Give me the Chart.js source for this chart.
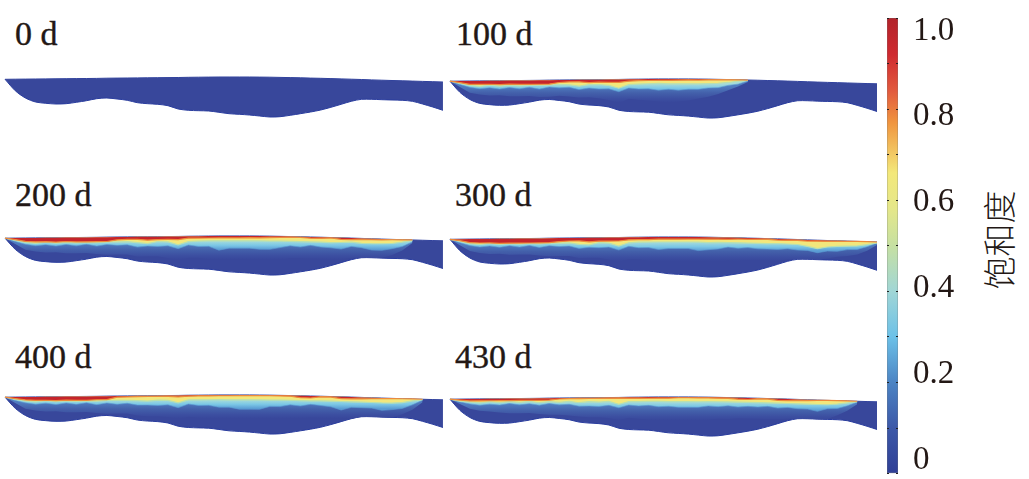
<!DOCTYPE html>
<html>
<head>
<meta charset="utf-8">
<style>
  html, body { margin: 0; padding: 0; background: #fff; }
  body { width: 1029px; height: 479px; position: relative; overflow: hidden; }
  canvas { position: absolute; }
  canvas.section { filter: blur(0.6px); }
  .label { position: absolute; font: 34px "Liberation Serif", serif; color: #231815; line-height: 36px; white-space: nowrap; -webkit-text-stroke: 0.4px #231815; }
  #barTitle { position: absolute; left: 948px; top: 222px; width: 100px; text-align: center; transform: rotate(-90deg); font: 300 33px/36px "Noto Sans CJK SC", sans-serif; color: #231815; }
</style>
</head>
<body>
<div id="barTitle">饱和度</div>
<canvas id="barChart" style="left:880px;top:0" width="149" height="479"></canvas>
<script src="https://cdn.jsdelivr.net/npm/chart.js@4"></script>
<script>
// distance along the section, every 10 units
const stations = [0,10,20,30,40,50,60,70,80,90,100,110,120,130,140,150,160,170,180,190,200,210,220,230,240,250,260,270,280,290,300,310,320,330,340,350,360,370,380,390,400,410,420,430];

// section outline, elevation
const topSurface = [-2.3,-2.2,-2.1,-2,-1.9,-1.8,-1.7,-1.6,-1.5,-1.4,-1.2,-1.1,-1,-0.9,-0.8,-0.7,-0.6,-0.5,-0.3,-0.2,-0.1,0,0,0,0,-0.1,-0.2,-0.4,-0.6,-0.8,-1.1,-1.3,-1.6,-1.9,-2.2,-2.5,-2.9,-3.2,-3.5,-3.8,-4.1,-4.4,-4.7,-5];
const bottomSurface = [-2.3,-13.7,-21,-25,-26.3,-27,-26.7,-25.3,-23.7,-21.7,-21,-22,-23.3,-25.7,-26.7,-27.3,-28.7,-32,-33.3,-33.7,-34,-35.3,-36.7,-37.3,-38,-39,-40,-39.7,-38.3,-36.7,-35,-33,-30.3,-27.3,-24.3,-22.3,-22.3,-22.7,-23,-23.3,-24.3,-27,-30,-33.3];

// depth below the surface of each saturation front
const red100 = [0,1.5,3.5,3.5,3.5,4,3.5,4,4,4,4,2.5,2,2,3,2.5,3,3,2,1.5,1.5,1.5,1.5,1.2,1,1,0.8,0.5,0.3,0,0];
const yellow100 = [0,2,4.5,5.5,4.5,5.5,4.8,5.5,5,5,5,4.5,5,6.5,5,5,6,9,5.5,5,4.8,4.5,5,5,5,5,4.5,4,3,1.5,0.5];
const cyan100 = [0,3.5,6.5,8,7,8.5,7,8.5,7,9,7,8,7.5,10,8.5,9.5,9.5,12.5,9,10,10,11.5,10.5,11.5,10.5,10.5,9,8.5,6,4.5,1];
const haze100 = [0,6,12,14,15,15,16,16,16,17,17,16,17,18,18,19,21,24,20,21,22,23,24,23,22,20,18,15,11,7,2];

const red200 = [0,1.5,3.5,4,4,4.5,4,4.5,4.5,4.5,4.5,3,2.5,2.5,3.5,3,3,3.2,2,2,2,2,2,2,1.8,1.8,1.5,1.2,0.8,0.8,1.2,1.2,0.5,1.5,1.5,1.2,1,0.8,0.4,0.2,0];
const yellow200 = [0,2,4.5,5.5,4.5,5.5,5,5.5,5,5.5,5,5,4.8,6,7,5,5.5,8.5,5.5,5,5,5,5,5,5,5,5,4.8,5,5,5,5,5.2,4.8,4.2,5,5,4.8,4.2,2.5,0.5];
const cyan200 = [0,3.5,6.5,8,7,8.5,7,8.5,7,9,7.5,8.5,8,10.5,9.5,10,9.5,12.5,9,10.5,10.5,14.5,12.5,12.5,12.5,13.5,13.5,11.5,9.5,10.5,8.5,10,10.5,11.5,8.5,9.5,11.5,11.5,9.5,7,2];
const haze200 = [0,6,12,14,15,15,16,16,16,17,18,18,18,20,20,20,22,24,22,22,24,26,26,24,25,26,26,24,22,22,22,22,22,22,20,20,21,19,16,11,3];

const red300 = [0,1.5,3.5,4,4,4.5,4.5,4.5,4.5,4.5,4.5,3.5,3,3,4,3.5,3.5,3.5,2.5,2.5,2.5,2.2,2.2,2.2,2,2,2,1.8,1.8,1.2,1.2,1.2,0.8,1.2,1.2,1,1.2,1,1,0.6,0.2,0,0,0];
const yellow300 = [0,2,4.5,5.5,4.5,5.5,5,5.5,5,5.5,5,5,4.8,6.5,7,5,5.5,8.5,5.5,5,5,5,5,5,5,5,5.5,5,5,5,5,5,5,4.8,4.8,5,6.5,8.5,6.5,5.5,5,4.5,3,1];
const cyan300 = [0,3.5,6.5,8,7,8.5,7,8.5,7,9,7.5,8.5,8,10.5,9.5,10,9.5,12.5,9,10.5,10.5,12.5,11.5,11.5,11.5,13.5,12.5,11.5,9.5,10.5,9.5,10.5,10.5,10.5,9.5,10.5,10.5,12.5,10.5,10.5,8.5,8,5,1];
const haze300 = [0,6,12,14,15,15,16,16,16,17,18,18,18,20,20,20,22,24,22,22,24,25,26,24,25,26,26,24,23,23,22,22,22,22,20,20,21,20,18,16,15,13,9,3];

const red400 = [0,1.5,3,3.5,3.5,4,3.5,4,4,3.5,3.5,1.2,1,0.8,0.8,0.8,0.8,1.5,1,0.8,0.8,0.8,0.8,0.6,0.6,0.6,0.6,0.6,0.6,2,2,0.6,0.6,1.8,1.8,1.5,1,0.6,0.3,0.1,0,0];
const yellow400 = [0,2,4,5,4,5,4.5,5,4.5,5,4.5,4.5,4.5,5,5.5,4.5,5,7.5,4.8,4.8,4.8,4.8,5,5,5,5,5,4.8,4.8,5,5,4.8,4.8,4.8,4.8,4.8,4.8,5,4.8,4,2,0.5];
const cyan400 = [0,3.5,6,7.5,6.5,8,6.5,8,6.5,8.5,7,8.5,7.5,9.5,9.5,10,9.5,12.5,9,10.5,10.5,12.5,12.5,14.5,14.5,14.5,11.5,11.5,9.5,10.5,8.5,9.5,10.5,13.5,10.5,10.5,10.5,12.5,11.5,10,6,1];
const haze400 = [0,6,12,14,15,15,16,16,16,17,18,18,18,20,21,21,22,24,22,23,24,26,27,26,27,27,26,24,23,23,22,22,24,25,23,22,22,22,20,16,11,3];

const red430 = [0,1,2,2,2,2,2,2,2,2,2,1,0.8,0.8,0.8,0.8,0.8,0.8,1.2,1.2,1.2,1.2,1.2,0.8,0.8,0.8,0.8,0.8,0.8,1.5,1.5,0.6,0.6,1.5,1.5,1.2,0.8,0.4,0.1,0,0,0];
const yellow430 = [0,2,3,4,3,4,3,4,3,4.5,3.5,4.5,3.5,5,4,4.5,4,7,4.5,4.5,4.5,4.5,4.8,4.8,4.8,4.8,4.5,4.5,4.5,4.5,4.5,4.5,4.5,4.5,4.5,4.5,4.5,4.5,4.5,3.5,2,0.5];
const cyan430 = [0,3,5,6.5,5.5,6.5,5,6.5,5.5,7,5.5,7,6.5,8.5,8.5,9,8,10.5,8,9,8.5,10,9.5,10.5,10.5,10.5,9,9.5,8.5,9.5,8.5,9,8,9.5,8.5,9.5,9.5,11.5,8.5,8,5,1];
const haze430 = [0,5,10,12,13,14,15,15,15,16,17,17,18,19,20,20,21,23,21,22,23,24,24,24,24,24,23,22,22,21,21,21,21,21,20,20,20,21,19,15,10,3];

const panelLabels = ["0 d", "100 d", "200 d", "300 d", "400 d", "430 d"];
const panelFronts = [
  [],
  [red100, yellow100, cyan100, haze100],
  [red200, yellow200, cyan200, haze200],
  [red300, yellow300, cyan300, haze300],
  [red400, yellow400, cyan400, haze400],
  [red430, yellow430, cyan430, haze430]
];

// colour bar
const barTickValues = [0,0.1,0.2,0.3,0.4,0.5,0.6,0.7,0.8,0.9,1];
const barLabels = [0,0.2,0.4,0.6,0.8,1];
const barStops = [0,0.1,0.2,0.3,0.4,0.5,0.58,0.66,0.77,0.84,0.92,1];
const barColors = ["#2f3f96","#3c58a8","#4c84c4","#6cc1e8","#a0d6d6","#c6e0a2","#e4e78a","#f3e87a","#f0953f","#e25a3e","#cf2a30","#b2232b"];

// page layout: left, top of the section canvas, its size, label position
const panelBoxes = [
  { left: 2, top: 75, width: 444, height: 44, labelLeft: 15, labelTop: 16 },
  { left: 447, top: 77, width: 433, height: 43, labelLeft: 456, labelTop: 16 },
  { left: 2, top: 234, width: 444, height: 43, labelLeft: 15, labelTop: 177 },
  { left: 447, top: 235, width: 433, height: 44, labelLeft: 455, labelTop: 177 },
  { left: 2, top: 393, width: 444, height: 43, labelLeft: 15, labelTop: 339 },
  { left: 447, top: 395, width: 433, height: 43, labelLeft: 455, labelTop: 339 }
];

// vertical fade between two elevations, for the bands that have no sharp colour
function fade(fromElevation, toElevation, stops, colors) {
  return function (context) {
    const chart = context.chart;
    if (!chart.chartArea) return colors[0];
    const y = chart.scales.y;
    const gradient = chart.ctx.createLinearGradient(0, y.getPixelForValue(fromElevation), 0, y.getPixelForValue(toElevation));
    stops.forEach((stop, i) => gradient.addColorStop(stop, colors[i]));
    return gradient;
  };
}

const frontStyles = [
  { fill: "#c5242b", line: "#ee8a3a", width: 1.2 },
  { fill: "#f2e77c", line: "#b9e0b0", width: 1.2 },
  { fill: fade(-5, -14, [0, 0.5, 1], ["#a8dcd8", "#7cc8e6", "#5a9cd4"]), line: "#5a9cd4", width: 0.6 },
  { fill: fade(-8, -24, [0, 0.4, 0.75, 1], ["#507bbf", "#4360aa", "#3c4fa1", "#38479b"]), line: "#38479b", width: 0 }
];

function curve(values) {
  return values.map((v, i) => ({ x: stations[i], y: v }));
}

function frontCurve(depths) {
  return depths.map((d, i) => ({
    x: stations[i],
    y: Math.max(bottomSurface[i], topSurface[i] - d)
  }));
}

function drawSection(index) {
  const box = panelBoxes[index];
  const canvas = document.createElement("canvas");
  canvas.className = "section";
  canvas.width = box.width;
  canvas.height = box.height;
  canvas.style.left = box.left + "px";
  canvas.style.top = box.top + "px";
  document.body.appendChild(canvas);

  const label = document.createElement("div");
  label.className = "label";
  label.textContent = panelLabels[index];
  label.style.left = box.labelLeft + "px";
  label.style.top = box.labelTop + "px";
  document.body.appendChild(label);

  const fronts = panelFronts[index];
  const topIndex = fronts.length + 1;
  // first dataset is painted last, so red ends up over yellow, cyan and the body
  const datasets = fronts.map((depths, i) => ({
    data: frontCurve(depths),
    backgroundColor: frontStyles[i].fill,
    borderColor: frontStyles[i].line,
    borderWidth: frontStyles[i].width,
    fill: topIndex
  }));
  datasets.push({
    data: curve(bottomSurface),
    backgroundColor: "#38479b",
    borderColor: "#2a3d9e",
    borderWidth: 1,
    tension: 0.3,
    fill: topIndex
  });
  datasets.push({
    data: curve(topSurface),
    borderColor: "#2a3d9e",
    borderWidth: 1,
    fill: false
  });

  new Chart(canvas, {
    type: "line",
    data: { datasets: datasets },
    options: {
      responsive: false,
      animation: false,
      elements: { point: { radius: 0 }, line: { tension: 0 } },
      layout: { padding: 0 },
      plugins: { legend: { display: false }, tooltip: { enabled: false } },
      scales: {
        x: { type: "linear", display: false, min: -3, max: 433 },
        y: { type: "linear", display: false, min: -42, max: 2 }
      }
    }
  });
}

panelLabels.forEach((name, i) => drawSection(i));

new Chart(document.getElementById("barChart"), {
  type: "bar",
  data: {
    labels: ["饱和度"],
    datasets: [{
      data: [[0, 1]],
      barPercentage: 1,
      categoryPercentage: 1,
      borderColor: "#6b6b6b",
      borderWidth: 0.6,
      borderSkipped: false,
      backgroundColor: function (context) {
        const area = context.chart.chartArea;
        if (!area) return barColors[0];
        const gradient = context.chart.ctx.createLinearGradient(0, area.bottom, 0, area.top);
        barStops.forEach((stop, i) => gradient.addColorStop(stop, barColors[i]));
        return gradient;
      }
    }]
  },
  options: {
    responsive: false,
    animation: false,
    layout: { padding: { left: 7, top: 18, bottom: 5.4, right: 0 } },
    plugins: { legend: { display: false }, tooltip: { enabled: false } },
    scales: {
      x: { display: false },
      y: {
        position: "left",
        min: 0,
        max: 1,
        grid: { color: "#222", drawTicks: false, lineWidth: 1, z: 1 },
        border: { display: false, dash: [2, 7, 2] },
        ticks: { display: false },
        afterBuildTicks: (scale) => { scale.ticks = barTickValues.map((v) => ({ value: v })); },
        afterFit: (scale) => { scale.width = 0; }
      },
      labels: {
        position: "right",
        // the printed labels sit a little inside the colour range, as in the figure
        min: -0.0317,
        max: 1.0303,
        grid: { display: false },
        border: { display: false },
        ticks: {
          color: "#231815",
          padding: 7,
          font: { family: "Liberation Serif", size: 33 },
          callback: (v) => (v === 0 ? "0" : v.toFixed(1))
        },
        afterBuildTicks: (scale) => { scale.ticks = barLabels.map((v) => ({ value: v })); },
        afterFit: (scale) => {
          scale.width = 131;
          scale.paddingTop = 0;
          scale.paddingBottom = 0;
        }
      }
    }
  }
});
</script>
</body>
</html>
